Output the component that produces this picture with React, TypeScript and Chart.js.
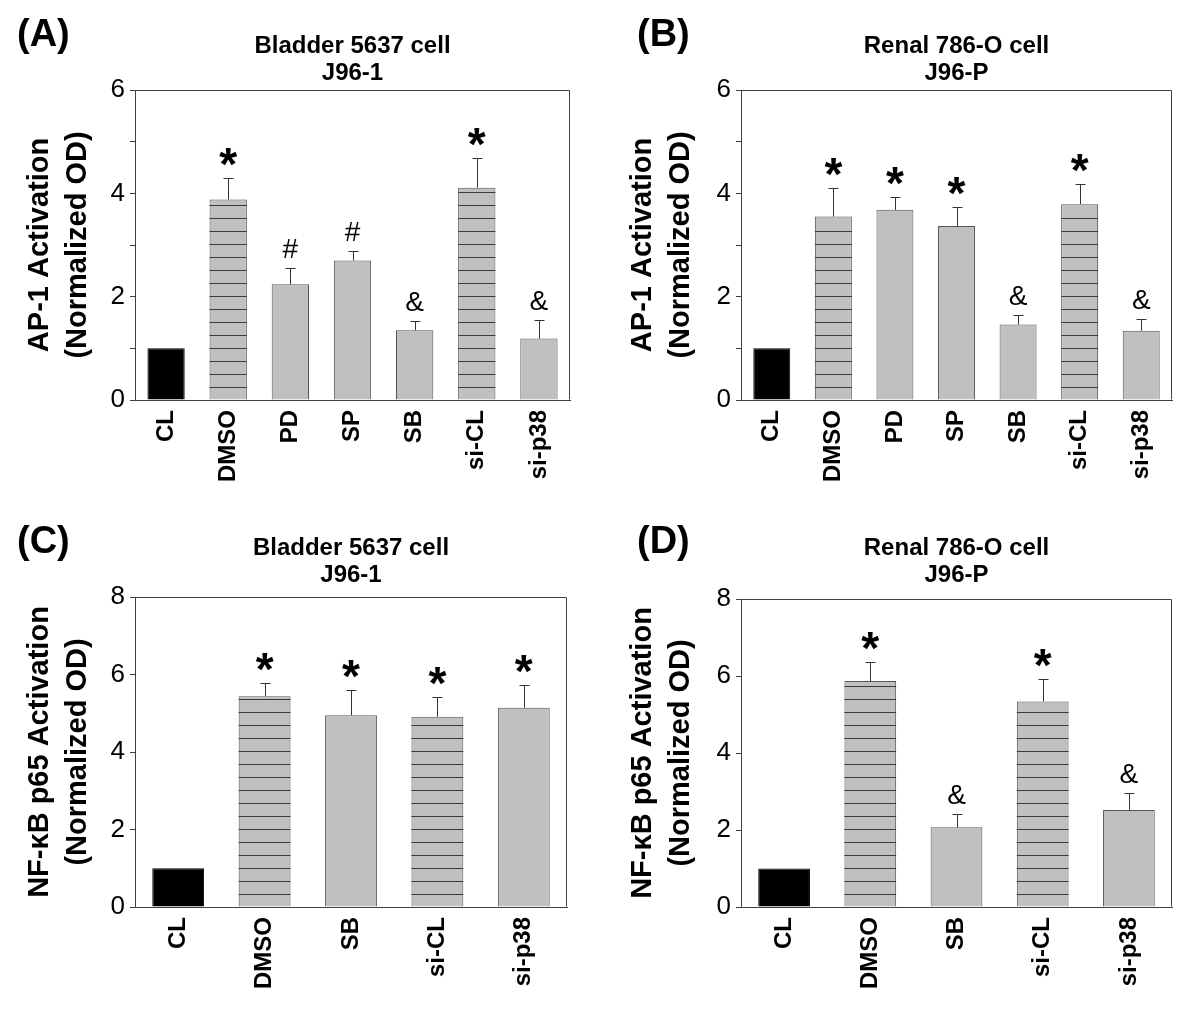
import React, { useEffect, useRef } from "react";
import { Chart, registerables } from "chart.js";

Chart.register(...registerables);

// ---------- data ----------
const labelsAB = ["CL", "DMSO", "PD", "SP", "SB", "si-CL", "si-p38"];
const labelsCD = ["CL", "DMSO", "SB", "si-CL", "si-p38"];

const valuesA = [1.0, 3.88, 2.24, 2.7, 1.35, 4.11, 1.19];
const errorsA = [0, 0.41, 0.31, 0.19, 0.18, 0.58, 0.35];
const marksA = ["", "*", "#", "#", "&", "*", "&"];

const valuesB = [1.0, 3.55, 3.68, 3.37, 1.46, 3.79, 1.34];
const errorsB = [0, 0.56, 0.24, 0.36, 0.19, 0.4, 0.23];
const marksB = ["", "*", "*", "*", "&", "*", "&"];

const valuesC = [1.0, 5.44, 4.95, 4.91, 5.14];
const errorsC = [0, 0.34, 0.64, 0.51, 0.58];
const marksC = ["", "*", "*", "*", "*"];

const valuesD = [1.0, 5.87, 2.07, 5.34, 2.52];
const errorsD = [0, 0.49, 0.35, 0.59, 0.44];
const marksD = ["", "*", "&", "*", "&"];

const hatchedAB = [false, true, false, false, false, true, false];
const hatchedCD = [false, true, false, true, false];

const titleA = ["Bladder 5637 cell", "J96-1"];
const titleB = ["Renal 786-O cell", "J96-P"];
const yTitleAP1 = ["AP-1 Activation", "(Normalized OD)"];
const yTitleNFKB = ["NF-\u03BAB p65 Activation", "(Normalized OD)"];

// ---------- styles ----------
const FONT = "'Liberation Sans', Arial, Helvetica, sans-serif";
const AXIS = "#404040";
const BAR_FILL = "#c0c0c0";
const BAR_EDGE = "#555555";
const HATCH_STEP = 13;

type Panel = {
  tag: string;
  title: string[];
  yTitle: string[];
  labels: string[];
  values: number[];
  errors: number[];
  marks: string[];
  hatched: boolean[];
  yMax: number;
  tickStep: number;
  labelStep: number;
  left: number;
  top: number;
  areaLeft: number;
  areaRight: number;
  areaTop: number;
  titlePadTop: number;
  yTitlePad: number;
  tagX: number;
};

const W = 600;
const H = 507;
const AREA_BOTTOM = 400;

const panels: Panel[] = [
  {
    tag: "(A)", title: titleA, yTitle: yTitleAP1, labels: labelsAB,
    values: valuesA, errors: errorsA, marks: marksA, hatched: hatchedAB,
    yMax: 6, tickStep: 1, labelStep: 2,
    left: 0, top: 0, areaLeft: 135, areaRight: 570, areaTop: 90, titlePadTop: 33, yTitlePad: 21, tagX: 17,
  },
  {
    tag: "(B)", title: titleB, yTitle: yTitleAP1, labels: labelsAB,
    values: valuesB, errors: errorsB, marks: marksB, hatched: hatchedAB,
    yMax: 6, tickStep: 1, labelStep: 2,
    left: 600, top: 0, areaLeft: 141, areaRight: 572, areaTop: 90, titlePadTop: 33, yTitlePad: 24, tagX: 37,
  },
  {
    tag: "(C)", title: titleA, yTitle: yTitleNFKB, labels: labelsCD,
    values: valuesC, errors: errorsC, marks: marksC, hatched: hatchedCD,
    yMax: 8, tickStep: 2, labelStep: 2,
    left: 0, top: 507, areaLeft: 135, areaRight: 567, areaTop: 90, titlePadTop: 28, yTitlePad: 21, tagX: 17,
  },
  {
    tag: "(D)", title: titleB, yTitle: yTitleNFKB, labels: labelsCD,
    values: valuesD, errors: errorsD, marks: marksD, hatched: hatchedCD,
    yMax: 8, tickStep: 2, labelStep: 2,
    left: 600, top: 507, areaLeft: 141, areaRight: 572, areaTop: 92, titlePadTop: 28, yTitlePad: 24, tagX: 37,
  },
];

const decorPlugin = {
  id: "decor",
  afterDatasetsDraw(chart: any, _args: any, opts: any) {
    const { ctx, chartArea } = chart;
    const yScale = chart.scales.y;
    const meta = chart.getDatasetMeta(0);
    const base = yScale.getPixelForValue(0);
    ctx.save();
    meta.data.forEach((bar: any, i: number) => {
      const { x, y, width } = bar.getProps(["x", "y", "width"], true);
      // hatch
      if (opts.hatched[i]) {
        ctx.strokeStyle = "#3a3a3a";
        ctx.lineWidth = 1;
        for (let ly = base - HATCH_STEP; ly > y + 2; ly -= HATCH_STEP) {
          const py = Math.round(ly) + 0.5;
          ctx.beginPath();
          ctx.moveTo(x - width / 2, py);
          ctx.lineTo(x + width / 2, py);
          ctx.stroke();
        }
      }
      // error bar
      const err = opts.errors[i];
      let topPx = y;
      if (err > 0) {
        topPx = yScale.getPixelForValue(opts.values[i] + err);
        const cx = Math.round(x) + 0.5;
        const ty = Math.round(topPx) + 0.5;
        ctx.strokeStyle = "#333333";
        ctx.lineWidth = 1;
        ctx.beginPath();
        ctx.moveTo(cx, y);
        ctx.lineTo(cx, ty);
        ctx.moveTo(cx - 5, ty);
        ctx.lineTo(cx + 5, ty);
        ctx.stroke();
      }
      // significance mark
      const mark = opts.marks[i];
      if (mark) {
        const isStar = mark === "*";
        ctx.font = isStar ? `bold 46px ${FONT}` : `28px ${FONT}`;
        ctx.fillStyle = "#000";
        ctx.textAlign = "center";
        ctx.textBaseline = "alphabetic";
        const m = ctx.measureText(mark);
        const gap = isStar ? 12 : 10;
        const baseline = topPx - gap - m.actualBoundingBoxDescent;
        ctx.fillText(mark, x, baseline);
      }
    });
    // frame
    ctx.strokeStyle = AXIS;
    ctx.lineWidth = 1;
    const l = Math.round(chartArea.left) + 0.5;
    const r = Math.round(chartArea.right) - 0.5;
    const t = Math.round(chartArea.top) + 0.5;
    const b = Math.round(chartArea.bottom) - 0.5;
    ctx.beginPath();
    ctx.moveTo(l, b);
    ctx.lineTo(l, t);
    ctx.lineTo(r, t);
    ctx.lineTo(r, b);
    ctx.stroke();
    // panel tag
    ctx.font = `bold 38px ${FONT}`;
    ctx.fillStyle = "#000";
    ctx.textAlign = "left";
    ctx.textBaseline = "alphabetic";
    ctx.fillText(opts.tag, opts.tagX, 46);
    ctx.restore();
  },
};

function PanelChart({ p }: { p: Panel }) {
  const ref = useRef<HTMLCanvasElement | null>(null);
  useEffect(() => {
    if (!ref.current) return;
    const titleLine = 27;
    const titlePadTop = p.titlePadTop;
    const titlePadBottom = p.areaTop - titlePadTop - titleLine * p.title.length;
    const chart = new Chart(ref.current, {
      type: "bar",
      data: {
        labels: p.labels,
        datasets: [
          {
            data: p.values,
            backgroundColor: p.labels.map((l) => (l === "CL" ? "#000000" : BAR_FILL)),
            borderColor: p.labels.map((l) => (l === "CL" ? "#000000" : BAR_EDGE)),
            borderWidth: 1,
            categoryPercentage: 1,
            barPercentage: 0.6,
          },
        ],
      },
      options: {
        responsive: false,
        animation: false,
        devicePixelRatio: 1,
        layout: { padding: { left: 0, top: 0, right: W - p.areaRight, bottom: 0 } },
        plugins: {
          legend: { display: false },
          tooltip: { enabled: false },
          title: {
            display: true,
            text: p.title,
            fullSize: false,
            color: "#000",
            font: { family: FONT, size: 24, weight: "bold", lineHeight: titleLine / 24 },
            padding: { top: titlePadTop, bottom: titlePadBottom },
          },
          decor: {
            hatched: p.hatched,
            errors: p.errors,
            values: p.values,
            marks: p.marks,
            tag: p.tag,
            tagX: p.tagX,
          },
        } as any,
        scales: {
          x: {
            offset: true,
            grid: { display: false, drawTicks: false },
            border: { display: true, color: AXIS, width: 1 },
            ticks: {
              autoSkip: false,
              minRotation: 90,
              maxRotation: 90,
              padding: 10,
              color: "#000",
              font: { family: FONT, size: 24, weight: "bold" },
            },
            afterFit: (s: any) => {
              s.height = H - AREA_BOTTOM;
            },
          },
          y: {
            min: 0,
            max: p.yMax,
            grid: {
              drawOnChartArea: false,
              drawTicks: true,
              tickLength: 5,
              tickColor: AXIS,
            },
            border: { display: true, color: AXIS, width: 1 },
            ticks: {
              stepSize: p.tickStep,
              padding: 5,
              color: "#000",
              font: { family: FONT, size: 26 },
              callback: (v: any) => (Number(v) % p.labelStep === 0 ? String(v) : ""),
            },
            title: {
              display: true,
              text: p.yTitle,
              color: "#000",
              font: { family: FONT, size: 29, weight: "bold", lineHeight: 38 / 29 },
              padding: { top: p.yTitlePad, bottom: 0 },
            },
            afterFit: (s: any) => {
              s.width = p.areaLeft;
            },
          },
        },
      },
      plugins: [decorPlugin],
    });
    return () => chart.destroy();
  }, [p]);
  return (
    <div style={{ position: "absolute", left: p.left, top: p.top, width: W, height: H }}>
      <canvas ref={ref} width={W} height={H} style={{ width: W, height: H, display: "block" }} />
    </div>
  );
}

export default function App() {
  return (
    <div
      style={{
        position: "absolute",
        left: 0,
        top: 0,
        width: 1200,
        height: 1014,
        background: "#ffffff",
        overflow: "hidden",
      }}
    >
      {panels.map((p) => (
        <PanelChart key={p.tag} p={p} />
      ))}
    </div>
  );
}
